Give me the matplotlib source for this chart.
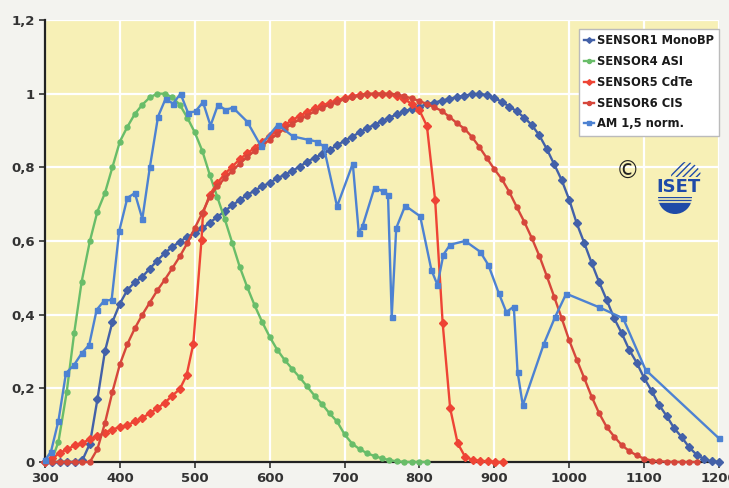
import matplotlib
matplotlib.use("Agg")
import matplotlib.pyplot as plt
from matplotlib.patches import Wedge

# wavelength (nm) / normalised response
wl_s1 = [300, 310, 320, 330, 340, 350, 360, 370, 380, 390, 400, 410, 420, 430, 440, 450,
         460, 470, 480, 490, 500, 510, 520, 530, 540, 550, 560, 570, 580, 590, 600, 610,
         620, 630, 640, 650, 660, 670, 680, 690, 700, 710, 720, 730, 740, 750, 760, 770,
         780, 790, 800, 810, 820, 830, 840, 850, 860, 870, 880, 890, 900, 910, 920, 930,
         940, 950, 960, 970, 980, 990, 1000, 1010, 1020, 1030, 1040, 1050, 1060, 1070,
         1080, 1090, 1100, 1110, 1120, 1130, 1140, 1150, 1160, 1170, 1180, 1190, 1200]
s1_monobp = [0, 0, 0, 0, 0, 0.005, 0.05, 0.17, 0.30, 0.38, 0.43, 0.467, 0.488, 0.503, 0.525,
             0.547, 0.567, 0.584, 0.598, 0.611, 0.622, 0.634, 0.65, 0.665, 0.681, 0.697,
             0.711, 0.725, 0.737, 0.748, 0.758, 0.77, 0.78, 0.79, 0.802, 0.815, 0.826, 0.835,
             0.847, 0.86, 0.872, 0.883, 0.895, 0.906, 0.916, 0.925, 0.935, 0.944, 0.952,
             0.959, 0.965, 0.971, 0.976, 0.981, 0.986, 0.991, 0.995, 0.998, 1.0, 0.996,
             0.988, 0.978, 0.965, 0.952, 0.935, 0.915, 0.887, 0.85, 0.808, 0.765, 0.712,
             0.648, 0.595, 0.54, 0.488, 0.44, 0.39, 0.35, 0.305, 0.27, 0.228, 0.193, 0.155,
             0.125, 0.092, 0.068, 0.04, 0.02, 0.008, 0.002, 0]

wl_s4 = [300, 310, 318, 329, 339, 349, 360, 370, 380, 390, 400, 410, 420, 430, 440, 450,
         460, 470, 480, 490, 500, 510, 520, 530, 540, 550, 560, 570, 580, 590, 600, 610,
         620, 630, 640, 650, 660, 670, 680, 690, 700, 710, 720, 730, 740, 750, 760, 770,
         780, 790, 800, 810]
s4_asi = [0, 0.01, 0.055, 0.19, 0.35, 0.49, 0.60, 0.68, 0.73, 0.80, 0.87, 0.91, 0.945, 0.97,
          0.99, 1.0, 1.0, 0.99, 0.97, 0.935, 0.895, 0.845, 0.78, 0.72, 0.66, 0.595, 0.53,
          0.475, 0.425, 0.38, 0.34, 0.305, 0.277, 0.253, 0.23, 0.205, 0.18, 0.157, 0.132,
          0.11, 0.075, 0.05, 0.035, 0.024, 0.016, 0.01, 0.005, 0.002, 0, 0, 0, 0]

wl_s5 = [300, 310, 320, 330, 340, 350, 360, 370, 380, 390, 400, 410, 420, 430, 440, 450,
         460, 470, 480, 489, 498, 509, 511, 520, 530, 540, 550, 560, 570, 580, 590, 600,
         610, 620, 630, 640, 650, 660, 670, 680, 690, 700, 710, 720, 730, 740, 750, 760,
         770, 780, 790, 800, 810, 821, 831, 841, 851, 861, 871, 881, 891, 901, 911]
s5_cdte = [0, 0.01, 0.025, 0.035, 0.045, 0.052, 0.062, 0.07, 0.08, 0.088, 0.095, 0.10, 0.11,
           0.12, 0.132, 0.146, 0.161, 0.18, 0.198, 0.235, 0.32, 0.603, 0.676, 0.726, 0.757,
           0.782, 0.802, 0.822, 0.838, 0.853, 0.87, 0.885, 0.90, 0.915, 0.928, 0.94, 0.95,
           0.96, 0.968, 0.975, 0.982, 0.988, 0.993, 0.997, 1.0, 1.0, 1.0, 0.998, 0.993,
           0.985, 0.972, 0.955, 0.912, 0.71, 0.377, 0.146, 0.051, 0.014, 0.006, 0.003,
           0.002, 0, 0]

wl_s6 = [300, 310, 320, 330, 340, 350, 360, 370, 380, 390, 400, 410, 420, 430, 440, 450,
         460, 470, 480, 490, 500, 510, 520, 530, 540, 550, 560, 570, 580, 590, 600, 610,
         620, 630, 640, 650, 660, 670, 680, 690, 700, 710, 720, 730, 740, 750, 760, 770,
         780, 790, 800, 810, 820, 830, 840, 850, 860, 870, 880, 890, 900, 910, 920, 930,
         940, 950, 960, 970, 980, 990, 1000, 1010, 1020, 1030, 1040, 1050, 1060, 1070,
         1080, 1090, 1100, 1110, 1120, 1130, 1140, 1150, 1160, 1170]
s6_cis = [0, 0, 0, 0, 0, 0, 0, 0.035, 0.105, 0.19, 0.265, 0.32, 0.363, 0.40, 0.433, 0.466,
          0.495, 0.526, 0.558, 0.594, 0.635, 0.676, 0.72, 0.748, 0.77, 0.79, 0.81, 0.828,
          0.845, 0.86, 0.875, 0.89, 0.905, 0.918, 0.93, 0.94, 0.952, 0.962, 0.97, 0.978,
          0.985, 0.99, 0.995, 0.998, 1.0, 1.0, 1.0, 0.998, 0.993, 0.987, 0.98, 0.972,
          0.963, 0.953, 0.937, 0.92, 0.905, 0.883, 0.855, 0.825, 0.795, 0.768, 0.733,
          0.692, 0.652, 0.608, 0.56, 0.505, 0.448, 0.39, 0.33, 0.278, 0.228, 0.177, 0.132,
          0.095, 0.069, 0.046, 0.03, 0.018, 0.009, 0.004, 0.002, 0.001, 0, 0, 0, 0]

wl_am = [300, 308, 318, 328, 339, 349, 359, 369, 379, 389, 399, 410, 420, 430, 440, 451,
         461, 471, 481, 491, 501, 511, 521, 531, 541, 551, 570, 588, 611, 631, 651, 663,
         672, 690, 711, 719, 724, 740, 751, 758, 763, 769, 781, 801, 816, 824, 832, 841,
         861, 881, 892, 906, 916, 926, 931, 938, 966, 981, 996, 1040, 1072, 1102, 1200]
am15 = [0.005, 0.028, 0.112, 0.241, 0.264, 0.295, 0.318, 0.413, 0.438, 0.44, 0.626, 0.717,
        0.73, 0.66, 0.80, 0.938, 0.986, 0.973, 1.0, 0.948, 0.952, 0.977, 0.913, 0.97, 0.956,
        0.962, 0.924, 0.859, 0.916, 0.884, 0.875, 0.87, 0.857, 0.694, 0.81, 0.622, 0.64,
        0.745, 0.735, 0.726, 0.395, 0.635, 0.696, 0.667, 0.521, 0.481, 0.563, 0.59, 0.60,
        0.571, 0.535, 0.458, 0.407, 0.422, 0.245, 0.154, 0.32, 0.393, 0.457, 0.42, 0.39,
        0.25, 0.064]

x_ticks = [300, 400, 500, 600, 700, 800, 900, 1000, 1100, 1200]
y_ticks = [0, 0.2, 0.4, 0.6, 0.8, 1.0, 1.2]
y_labels = ["0", "0,2", "0,4", "0,6", "0,8", "1", "1,2"]

series = [
    (wl_s1, s1_monobp, "#4361a8", "D", "SENSOR1 MonoBP"),
    (wl_s4, s4_asi, "#69bd69", "o", "SENSOR4 ASI"),
    (wl_s5, s5_cdte, "#ee4435", "D", "SENSOR5 CdTe"),
    (wl_s6, s6_cis, "#d6473b", "o", "SENSOR6 CIS"),
    (wl_am, am15, "#4d82d2", "s", "AM 1,5 norm."),
]

fig = plt.figure(figsize=(7.29, 4.88), dpi=100, facecolor="#f3f3ef")
ax = fig.add_axes([0.0617, 0.0533, 0.9246, 0.9057])
ax.set_facecolor("#f7f0b6")

for x, y, col, mk, lab in series:
    ax.plot(x, y, color=col, lw=1.7, marker=mk, ms=3.6, mec=col, mfc=col,
            label=lab, clip_on=False, zorder=3)

ax.set_xlim(300, 1200)
ax.set_ylim(0, 1.2)
ax.set_xticks(x_ticks)
ax.set_yticks(y_ticks)
ax.set_yticklabels(y_labels)
ax.grid(True, color="white", lw=1.6, zorder=0)
ax.set_axisbelow(True)
for s in ["top", "right"]:
    ax.spines[s].set_visible(False)
for s in ["left", "bottom"]:
    ax.spines[s].set_color("#222222")
    ax.spines[s].set_linewidth(1.6)
ax.tick_params(axis="both", colors="#333333", labelsize=9.5, width=1.2, length=4)
for t in ax.get_xticklabels() + ax.get_yticklabels():
    t.set_fontweight("bold")

leg = ax.legend(loc="upper right", bbox_to_anchor=(1.003, 0.985),
                handlelength=0.8, handletextpad=0.25, labelspacing=0.68,
                borderpad=0.45, borderaxespad=0.2, frameon=True, fancybox=False,
                markerscale=0.8, prop={"weight": "bold", "size": 8.3})
leg.get_frame().set_facecolor("white")
leg.get_frame().set_edgecolor("#bbbbbb")
leg.get_frame().set_alpha(1)
for t in leg.get_texts():
    t.set_color("#1a1a1a")

# copyright sign and ISET logo
fig.text(628 / 729, 1 - 172 / 488, "\u00a9", fontsize=17, ha="center", va="center",
         color="#222222")
logo = "#1f4ba8"
fig.text(678 / 729, 1 - 187 / 488, "ISET", fontsize=13, fontweight="bold",
         ha="center", va="center", color=logo)
top = Wedge((6.86, 4.88 - 1.77), 0.15, 0, 180, transform=fig.dpi_scale_trans,
            facecolor="none", edgecolor=logo, hatch="/////", lw=0)
bot = Wedge((6.75, 4.88 - 1.97), 0.17, 180, 360, transform=fig.dpi_scale_trans,
            facecolor=logo, edgecolor=logo, lw=0)
fig.patches.extend([top, bot])
for yy in [1.99, 2.02]:
    fig.add_artist(plt.Line2D([6.55, 6.95], [4.88 - yy, 4.88 - yy], color="#f7f0b6",
                              lw=1.2, transform=fig.dpi_scale_trans))

fig.savefig("out.png", dpi=100, facecolor=fig.get_facecolor())
